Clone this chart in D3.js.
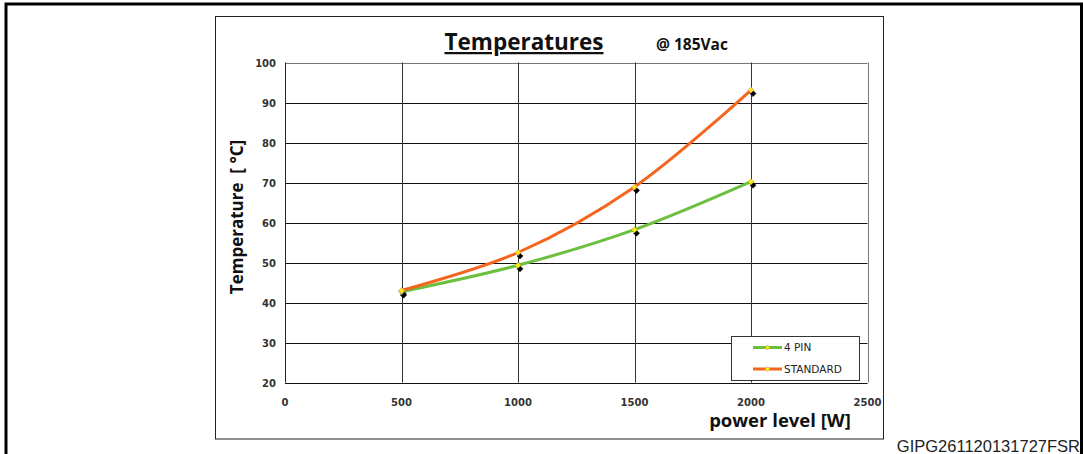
<!DOCTYPE html>
<html>
<head>
<meta charset="utf-8">
<script src="https://cdn.jsdelivr.net/npm/d3@7"></script>
<style>
  body { margin: 0; background: #fff; }
  svg { display: block; }
</style>
</head>
<body>
<svg id="chart" width="1083" height="454"></svg>
<script>
// data
var power = [500, 1000, 1500, 2000];
var pin4 = [42.7, 49.3, 58.2, 70.2];
var standard = [43.0, 52.5, 68.9, 93.1];
var seriesNames = ["4 PIN", "STANDARD"];
var xTicks = [0, 500, 1000, 1500, 2000, 2500];
var yTicks = [20, 30, 40, 50, 60, 70, 80, 90, 100];

var svg = d3.select("#chart");

var green = "#6cbf3f";
var orange = "#f4661f";

// outer frame (open at the bottom)
svg.append("path")
  .attr("d", "M6,454 V4 H1081.5 V454")
  .attr("fill", "none").attr("stroke", "#000").attr("stroke-width", 3);

// chart box
svg.append("rect")
  .attr("x", 215.5).attr("y", 16.5).attr("width", 668).attr("height", 422.5)
  .attr("fill", "#fff").attr("stroke", "#222").attr("stroke-width", 1);

var x = d3.scaleLinear().domain([0, 2500]).range([285, 867.5]);
var y = d3.scaleLinear().domain([20, 100]).range([382.5, 62.5]);

// grid
svg.append("g").selectAll("line.h").data(yTicks).enter().append("line")
  .attr("x1", x(0)).attr("x2", x(2500))
  .attr("y1", function(d) { return Math.round(y(d)) + 0.5; })
  .attr("y2", function(d) { return Math.round(y(d)) + 0.5; })
  .attr("stroke", function(d) { return d == 100 ? "#777" : "#111"; })
  .attr("stroke-width", 1);

svg.append("g").selectAll("line.v").data(xTicks).enter().append("line")
  .attr("y1", y(100)).attr("y2", y(20))
  .attr("x1", function(d) { return Math.round(x(d)) + 0.5; })
  .attr("x2", function(d) { return Math.round(x(d)) + 0.5; })
  .attr("stroke", function(d) { return d == 0 ? "#222" : (d == 2500 ? "#777" : "#333"); })
  .attr("stroke-width", 1);

// tick labels
svg.append("g").selectAll("text").data(yTicks).enter().append("text")
  .attr("x", 276).attr("y", function(d) { return y(d) + 4; })
  .attr("text-anchor", "end")
  .style("font", "bold 10px 'DejaVu Sans'").attr("fill", "#333")
  .text(function(d) { return d; });

svg.append("g").selectAll("text").data(xTicks).enter().append("text")
  .attr("x", function(d) { return x(d); }).attr("y", 406)
  .attr("text-anchor", "middle")
  .style("font", "bold 10px 'DejaVu Sans'").attr("fill", "#333")
  .text(function(d) { return d; });

// titles
svg.append("text").attr("x", 524).attr("y", 50).attr("text-anchor", "middle")
  .style("font", "bold 22.5px 'Open Sans'").attr("fill", "#111")
  .attr("text-decoration", "underline")
  .text("Temperatures");
svg.append("text").attr("x", 656).attr("y", 50)
  .style("font", "bold 15.5px 'Open Sans'").attr("fill", "#111")
  .text("@ 185Vac");

svg.append("text")
  .attr("transform", "translate(243,217) rotate(-90)")
  .attr("text-anchor", "middle")
  .style("font", "bold 17px 'Open Sans'").style("white-space", "pre").attr("fill", "#111")
  .text("Temperature  [ °C]");

svg.append("text").attr("x", 780).attr("y", 427).attr("text-anchor", "middle")
  .style("font", "bold 18.5px 'Open Sans'").attr("fill", "#111")
  .text("power level [W]");

// lines
var line = d3.line()
  .x(function(d) { return x(d[0]); })
  .y(function(d) { return y(d[1]); })
  .curve(d3.curveCatmullRom.alpha(0.5));

var series = [
  { name: seriesNames[0], color: green, values: d3.zip(power, pin4) },
  { name: seriesNames[1], color: orange, values: d3.zip(power, standard) }
];

function diamond(sel, cx, cy, r, fill, stroke) {
  sel.append("path")
    .attr("d", "M" + cx + "," + (cy - r) + " L" + (cx + r) + "," + cy +
               " L" + cx + "," + (cy + r) + " L" + (cx - r) + "," + cy + "Z")
    .attr("fill", fill).attr("stroke", stroke).attr("stroke-width", 0.6);
}

var gLines = svg.append("g");
series.forEach(function(s) {
  gLines.append("path").datum(s.values)
    .attr("d", line)
    .attr("fill", "none").attr("stroke", s.color).attr("stroke-width", 3)
    .attr("stroke-linecap", "round");
});

series.forEach(function(s) {
  s.values.forEach(function(v) {
    var px = x(v[0]), py = y(v[1]);
    // black shadow diamonds
    diamond(gLines, px + 2, py + 3.5, 3, "#000", "#000");
  });
});
series.forEach(function(s) {
  s.values.forEach(function(v) {
    var px = x(v[0]), py = y(v[1]);
    diamond(gLines, px, py, 3, "#ffee00", s.name == "STANDARD" ? "#d58ac0" : "#9aa040");
  });
});

// legend
var lg = svg.append("g");
lg.append("rect").attr("x", 731.5).attr("y", 336.5).attr("width", 128).attr("height", 44)
  .attr("fill", "#fff").attr("stroke", "#333").attr("stroke-width", 1);
series.forEach(function(s, i) {
  var ly = 347.5 + i * 21.5;
  lg.append("line").attr("x1", 753).attr("x2", 782).attr("y1", ly).attr("y2", ly)
    .attr("stroke", s.color).attr("stroke-width", 3);
  diamond(lg, 767.5, ly, 2.5, "#ffee00", i == 1 ? "#d58ac0" : "#9aa040");
  lg.append("text").attr("x", 784).attr("y", ly + 3.5)
    .style("font", "10.5px 'DejaVu Sans'").attr("fill", "#222")
    .text(s.name);
});

// footer id
svg.append("text").attr("x", 1080).attr("y", 452).attr("text-anchor", "end")
  .style("font", "16.5px 'Liberation Sans'").attr("fill", "#222")
  .text("GIPG261120131727FSR");
</script>
</body>
</html>
